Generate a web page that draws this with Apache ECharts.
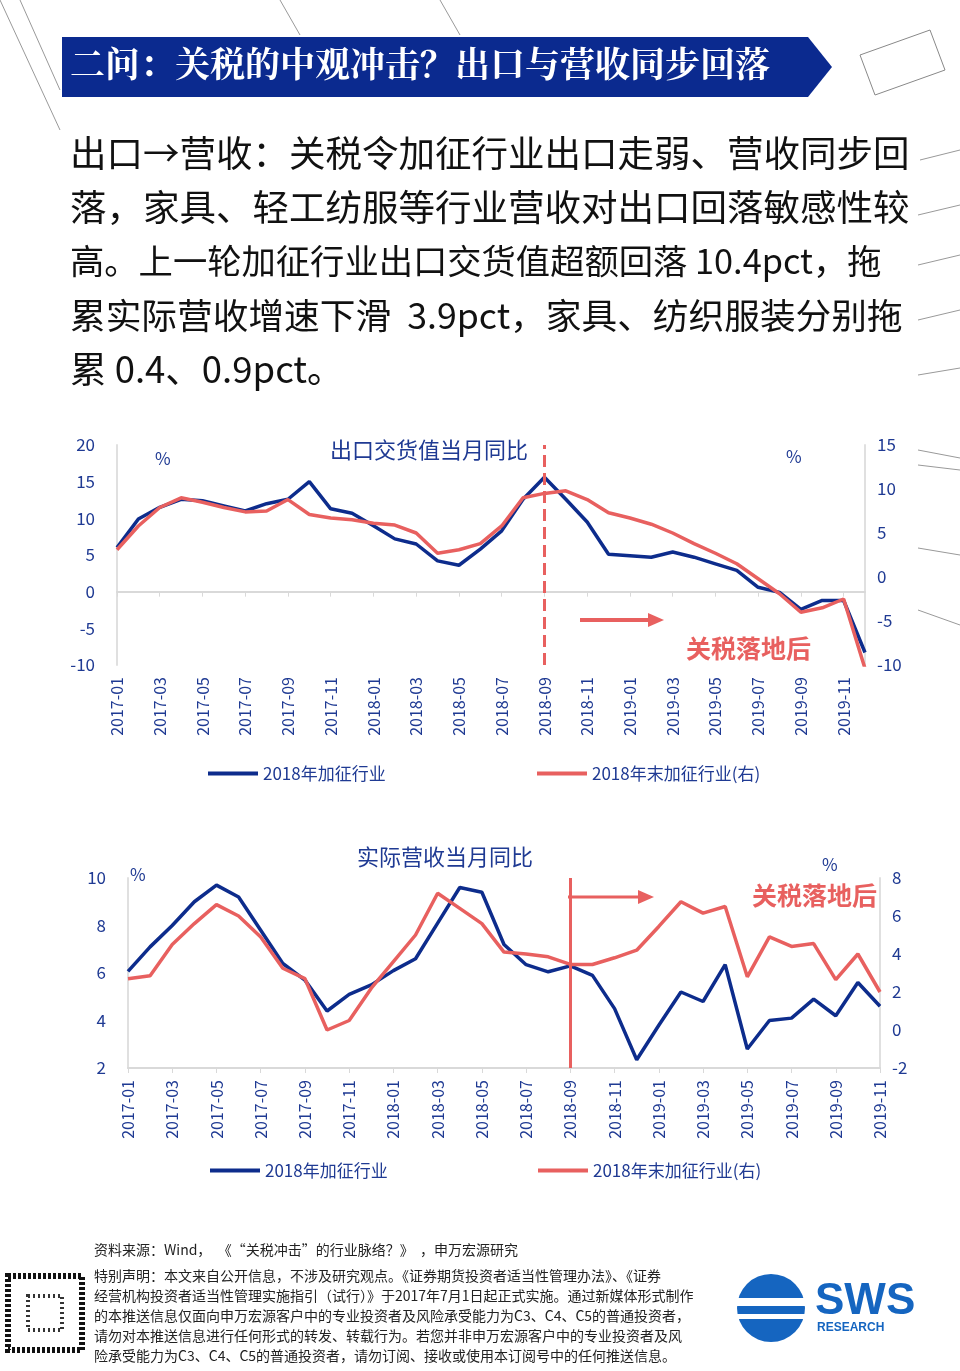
<!DOCTYPE html>
<html><head><meta charset="utf-8">
<script src="https://cdn.jsdelivr.net/npm/echarts@6/dist/echarts.min.js"></script>
<style>html,body{margin:0;padding:0;background:#fff}#c{width:960px;height:1371px}</style>
</head><body><div id="c"></div>
<script>
function months(n){var a=[];for(var i=0;i<n;i++){var y=2017+Math.floor(i/12),m=i%12+1;a.push(y+'-'+(m<10?'0'+m:m));}return a;}
var cats1 = months(36);
var cats2 = months(35);
var exportBlue = [6.0,9.9,11.5,12.6,12.4,11.7,11.0,12.0,12.6,15.0,11.3,10.7,9.0,7.2,6.5,4.2,3.6,5.8,8.3,12.6,15.6,12.6,9.5,5.1,4.9,4.7,5.4,4.7,3.8,2.9,0.6,-0.1,-2.4,-1.2,-1.2,-8.3];
var exportRed = [3.1,5.8,7.9,9.0,8.5,7.9,7.4,7.5,8.8,7.1,6.7,6.5,6.1,5.9,5.0,2.7,3.1,3.8,5.8,9.0,9.5,9.8,8.8,7.3,6.7,6.0,5.0,3.8,2.7,1.5,-0.2,-1.9,-4.0,-3.5,-2.5,-10.4];
var revBlue = [6.07,7.1,8.0,9.0,9.7,9.2,7.8,6.4,5.7,4.4,5.1,5.5,6.1,6.6,8.1,9.6,9.4,7.2,6.35,6.05,6.3,5.9,4.5,2.35,3.8,5.2,4.8,6.35,2.8,4.0,4.1,4.9,4.2,5.6,4.6];
var revRed = [2.7,2.85,4.5,5.6,6.6,6.0,4.9,3.25,2.7,0.0,0.5,2.2,3.6,5.0,7.2,6.4,5.6,4.1,4.0,3.85,3.45,3.45,3.8,4.2,5.45,6.75,6.15,6.5,2.8,4.9,4.4,4.55,2.65,4.0,2.0];
var nameBlue='2018年加征行业', nameRed='2018年末加征行业(右)';
var BLUE='#0d2c8c', RED='#e8605f', AX='#1f3a93';
var F='"Noto Sans CJK SC","Noto Sans",sans-serif';
var body=['出口→营收：关税令加征行业出口走弱、营收同步回','落，家具、轻工纺服等行业营收对出口回落敏感性较','高。上一轮加征行业出口交货值超额回落 10.4pct，拖','累实际营收增速下滑  3.9pct，家具、纺织服装分别拖','累 0.4、0.9pct。'];
var bodySize=[36.5,36.5,34.3,35.7,36.5];
var foot=['资料来源：Wind，  《“关税冲击”的行业脉络？》  ，申万宏源研究','特别声明：本文来自公开信息，不涉及研究观点。《证券期货投资者适当性管理办法》、《证券','经营机构投资者适当性管理实施指引（试行）》于2017年7月1日起正式实施。通过新媒体形式制作','的本推送信息仅面向申万宏源客户中的专业投资者及风险承受能力为C3、C4、C5的普通投资者，','请勿对本推送信息进行任何形式的转发、转载行为。若您并非申万宏源客户中的专业投资者及风','险承受能力为C3、C4、C5的普通投资者，请勿订阅、接收或使用本订阅号中的任何推送信息。'];
var g=[];
g.push({type:'polygon',shape:{points:[[62,37],[808,37],[832,67],[808,97],[62,97]]},style:{fill:'#0b2a8f'}});
g.push({type:'text',left:70,top:46,style:{text:'二问：关税的中观冲击？出口与营收同步回落',fill:'#fff',font:'bold 35px "Noto Serif CJK SC","Noto Sans CJK SC",serif'}});
body.forEach(function(t,i){g.push({type:'text',left:70,top:135+i*54+(36.5-bodySize[i])/2,style:{text:t,fill:'#111',font:bodySize[i]+'px '+F}});});
foot.forEach(function(t,i){g.push({type:'text',left:94,top:1243+i*20+(i>0?6:0),style:{text:t,fill:'#222',font:'14px '+F}});});
[[920,160,960,150],[918,215,960,205],[918,265,960,255],[918,320,960,310],[918,375,960,368],[918,450,960,458],[918,465,960,470],[918,548,960,555],[918,610,960,625],[0,0,60,130],[20,0,60,90],[280,0,300,35],[440,0,460,35]].forEach(function(l){g.push({type:'line',shape:{x1:l[0],y1:l[1],x2:l[2],y2:l[3]},style:{stroke:'#999',lineWidth:1}});});
g.push({type:'polygon',shape:{points:[[860,55],[930,30],[945,70],[875,95]]},style:{fill:'none',stroke:'#888',lineWidth:1}});
g.push({type:'text',left:330,top:439,style:{text:'出口交货值当月同比',fill:AX,font:'22px '+F}});
g.push({type:'text',left:155,top:450,style:{text:'%',fill:AX,font:'17px '+F}});
g.push({type:'text',left:786,top:448,style:{text:'%',fill:AX,font:'17px '+F}});
g.push({type:'line',shape:{x1:580,y1:620,x2:650,y2:620},style:{stroke:RED,lineWidth:4}});
g.push({type:'polygon',shape:{points:[[648,613],[664,620],[648,627]]},style:{fill:RED}});
g.push({type:'text',left:686,top:636,style:{text:'关税落地后',fill:RED,font:'bold 25px '+F}});
g.push({type:'text',left:357,top:846,style:{text:'实际营收当月同比',fill:AX,font:'22px '+F}});
g.push({type:'text',left:130,top:866,style:{text:'%',fill:AX,font:'17px '+F}});
g.push({type:'text',left:822,top:856,style:{text:'%',fill:AX,font:'17px '+F}});
g.push({type:'line',shape:{x1:568,y1:897,x2:640,y2:897},style:{stroke:RED,lineWidth:3}});
g.push({type:'polygon',shape:{points:[[638,890],[654,897],[638,904]]},style:{fill:RED}});
g.push({type:'text',left:752,top:883,style:{text:'关税落地后',fill:RED,font:'bold 25px '+F}});
g.push({type:'circle',shape:{cx:771,cy:1308,r:34},style:{fill:'#1565c0'}});
g.push({type:'rect',shape:{x:737,y:1298,width:68,height:8},style:{fill:'#fff'}});
g.push({type:'rect',shape:{x:737,y:1314,width:68,height:5},style:{fill:'#fff'}});
g.push({type:'text',left:815,top:1280,style:{text:'SWS',fill:'#1565c0',font:'bold 44px Arial,sans-serif'}});
g.push({type:'text',left:817,top:1322,style:{text:'RESEARCH',fill:'#1565c0',font:'bold 12px Arial,sans-serif'}});
g.push({type:'rect',shape:{x:8,y:1276,width:74,height:74},style:{fill:'#fff',stroke:'#111',lineWidth:6,lineDash:[3,2]}});
g.push({type:'rect',shape:{x:28,y:1296,width:34,height:34},style:{fill:'#fff',stroke:'#333',lineWidth:4,lineDash:[2,3]}});

function xa(gi,cats,lineOnZero){return {type:'category',gridIndex:gi,data:cats,boundaryGap:false,
 axisLine:{show:true,onZero:lineOnZero,lineStyle:{color:'#d9d9d9',width:2}},axisTick:{show:true,interval:1,lineStyle:{color:'#d9d9d9'}},
 axisLabel:{interval:1,rotate:90,color:AX,fontSize:16,fontFamily:F,margin:12},splitLine:{show:false}};}
function ya(gi,min,max,iv,pos){return {type:'value',gridIndex:gi,min:min,max:max,interval:iv,position:pos,
 axisLine:{show:true,lineStyle:{color:'#e0e0e0',width:2}},axisTick:{show:false},splitLine:{show:false},
 axisLabel:{color:AX,fontSize:17,fontFamily:F,margin:pos==='left'?22:12}};}
var LS={color:AX,fontSize:17,fontFamily:F};
var opt={animation:false,graphic:g,
 grid:[{left:117,right:95,top:445,height:220},{left:128,right:80,top:878,height:190}],
 xAxis:[xa(0,cats1,true),xa(1,cats2,false)],
 yAxis:[ya(0,-10,20,5,'left'),ya(0,-10,15,5,'right'),ya(1,2,10,2,'left'),ya(1,-2,8,2,'right')],
 legend:[{data:[nameBlue],left:203,top:760,itemWidth:50,itemHeight:4,itemGap:4,icon:'rect',textStyle:LS},
  {data:[nameRed],left:532,top:760,itemWidth:50,itemHeight:4,icon:'rect',textStyle:LS},
  {data:[nameBlue+' '],left:205,top:1157,itemWidth:50,itemHeight:4,icon:'rect',textStyle:LS},
  {data:[nameRed+' '],left:533,top:1157,itemWidth:50,itemHeight:4,icon:'rect',textStyle:LS}],
 series:[
  {name:nameBlue,type:'line',xAxisIndex:0,yAxisIndex:0,data:exportBlue,symbol:'none',lineStyle:{color:BLUE,width:3.5},itemStyle:{color:BLUE},z:3,
   markLine:{silent:true,symbol:'none',label:{show:false},lineStyle:{color:RED,type:[12,6],width:3},data:[{xAxis:'2018-09'}]}},
  {name:nameRed,type:'line',xAxisIndex:0,yAxisIndex:1,data:exportRed,symbol:'none',lineStyle:{color:RED,width:3.5},itemStyle:{color:RED},z:4},
  {name:nameBlue+' ',type:'line',xAxisIndex:1,yAxisIndex:2,data:revBlue,symbol:'none',lineStyle:{color:BLUE,width:3.5},itemStyle:{color:BLUE},z:3,
   markLine:{silent:true,symbol:'none',label:{show:false},lineStyle:{color:RED,type:'solid',width:3},data:[{xAxis:'2018-09'}]}},
  {name:nameRed+' ',type:'line',xAxisIndex:1,yAxisIndex:3,data:revRed,symbol:'none',lineStyle:{color:RED,width:3.5},itemStyle:{color:RED},z:4}
 ]};
echarts.init(document.getElementById('c')).setOption(opt);
</script></body></html>
